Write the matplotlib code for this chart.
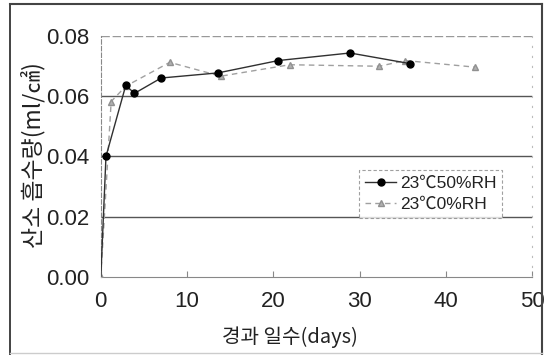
import matplotlib
matplotlib.use("Agg")
import matplotlib.pyplot as plt
from matplotlib import font_manager
from matplotlib.lines import Line2D

# data
days_50 = [0, 0.6, 2.9, 3.9, 7.0, 13.6, 20.6, 28.9, 35.8]
o2_50 = [0.0, 0.040, 0.0636, 0.0609, 0.0660, 0.0677, 0.0718, 0.0743, 0.0708]
days_0 = [0, 1.2, 2.9, 8.0, 13.9, 21.9, 32.3, 35.3, 43.4]
o2_0 = [0.0, 0.0582, 0.0633, 0.0712, 0.0666, 0.0704, 0.0699, 0.0718, 0.0696]
labels = ["23℃50%RH", "23℃0%RH"]
xticks = [0, 10, 20, 30, 40, 50]
yticks = [0.00, 0.02, 0.04, 0.06, 0.08]

names = {f.name for f in font_manager.fontManager.ttflist}
narrow = "Liberation Sans Narrow" if "Liberation Sans Narrow" in names else "Liberation Sans"
num_font = [narrow, "Noto Sans CJK KR"]
kr_font = ["Noto Sans CJK KR", "DejaVu Sans"]

W, H = 545, 355
fig = plt.figure(figsize=(W / 100, H / 100), dpi=100)
ax = fig.add_axes([100.8 / W, 1 - 277 / H, (532 - 100.8) / W, (277 - 35.8) / H])

ax.plot(days_0, o2_0, color="#a0a0a0", lw=1.0, ls=(0, (4, 3)),
        marker="^", ms=4, mfc="#b0b0b0", mec="#909090", label=labels[1], zorder=3)
ax.plot(days_50, o2_50, color="#303030", lw=1.0, markevery=list(range(1, len(days_50))),
        marker="o", ms=5, mfc="black", mec="black", label=labels[0], zorder=4)

ax.set_xlim(0, 50)
ax.set_ylim(0, 0.08)
ax.set_xticks(xticks)
ax.set_yticks(yticks)
ax.set_yticklabels([f"{v:.2f}" for v in yticks])

for gv in yticks[1:-1]:
    ax.axhline(gv, color="#555555", lw=1.0, zorder=1)
ax.axhline(0.08, color="#999999", lw=1.0, ls=(0, (6, 2)), zorder=1)

ax.spines["left"].set_color("#888888")
ax.spines["left"].set_linestyle((0, (4, 2)))
ax.spines["top"].set_visible(False)
ax.spines["right"].set_color("#bbbbbb")
ax.spines["right"].set_linestyle((0, (1, 8)))
ax.spines["bottom"].set_color("#888888")

ax.tick_params(axis="x", direction="in", length=4, color="#888888", pad=10)
ax.tick_params(axis="y", length=0, pad=8)
for t in ax.get_xticklabels() + ax.get_yticklabels():
    t.set_fontfamily(num_font)
    t.set_fontsize(16)
    t.set_color("#222222")

fig.text(290 / W, 1 - 337 / H, "경과 일수(days)", family=kr_font, fontsize=14.5,
         ha="center", va="center", color="#222222")
fig.text(33 / W, 1 - 155 / H, "산소 흡수량(ml/㎠)", family=kr_font, fontsize=16.5,
         rotation=90, ha="center", va="center", color="#222222")

handles = [
    Line2D([], [], color="#303030", lw=1.0, marker="o", ms=5, mfc="black", mec="black"),
    Line2D([], [], color="#a0a0a0", lw=1.0, ls=(0, (4, 3)), marker="^", ms=4,
           mfc="#b0b0b0", mec="#909090"),
]
leg = ax.legend(handles, labels, loc="upper left",
                bbox_to_anchor=((359 - 100.8) / (532 - 100.8), 1 - (170 - 35.8) / (277 - 35.8)),
                prop={"family": num_font, "size": 12.5}, frameon=True, fancybox=False,
                borderpad=0.35, handlelength=1.8, handletextpad=0.2, labelspacing=0.3,
                borderaxespad=0)
leg.get_frame().set_edgecolor("#888888")
leg.get_frame().set_linestyle((0, (3, 2)))
leg.get_frame().set_linewidth(0.8)
for t in leg.get_texts():
    t.set_color("#222222")

# outer border of the figure
fig.add_artist(Line2D([10 / W, 10 / W], [0, 1 - 4 / H], transform=fig.transFigure, color="#222222", lw=1.2))
fig.add_artist(Line2D([10 / W, 542 / W], [1 - 4 / H, 1 - 4 / H], transform=fig.transFigure, color="#444444", lw=1.5))
fig.add_artist(Line2D([542 / W, 542 / W], [0, 1 - 4 / H], transform=fig.transFigure, color="#444444", lw=1.5))
fig.add_artist(Line2D([10 / W, 542 / W], [1 - 353 / H, 1 - 353 / H], transform=fig.transFigure, color="#cccccc", lw=1.0))

fig.savefig("out.png", dpi=100)
